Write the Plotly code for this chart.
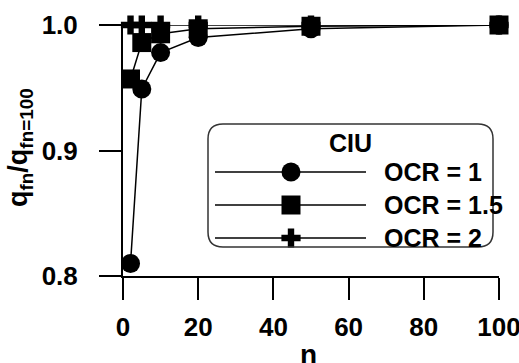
import plotly.graph_objects as go

# ---- data ----
n_values = [2, 5, 10, 20, 50, 100]
ocr1 = [0.810, 0.949, 0.978, 0.990, 0.997, 1.000]
ocr15 = [0.957, 0.986, 0.993, 0.997, 0.999, 1.000]
ocr2 = [1.000, 1.000, 1.000, 1.000, 1.000, 1.000]
series_names = ["OCR = 1", "OCR = 1.5", "OCR = 2"]
series_symbols = ["circle", "square", "cross"]
series_sizes = [19, 19, 16]
legend_title = "CIU"
x_ticks = [0, 20, 40, 60, 80, 100]
y_ticks = [0.8, 0.9, 1.0]
y_tick_labels = ["0.8", "0.9", "1.0"]

FONT = "Liberation Sans Narrow, Liberation Sans, Arial, sans-serif"
FONT_REG = "Liberation Sans, Arial, sans-serif"

W, H = 519, 363
L, R, T, B = 123, 20, 25, 87
PW, PH = W - L - R, H - T - B

def px(x):
    return (x - L) / PW

def py(y):
    return (H - B - y) / PH

fig = go.Figure()
for vals, name, sym, sz in zip([ocr1, ocr15, ocr2], series_names, series_symbols, series_sizes):
    fig.add_trace(go.Scatter(
        x=n_values, y=vals, mode="lines+markers", name=name,
        line=dict(color="black", width=1.5),
        marker=dict(symbol=sym, size=sz, color="black", line=dict(width=0)),
        cliponaxis=False, showlegend=False,
    ))

# ---- custom legend ----
bx0, bx1, by0, by1 = 208, 493, 124, 247
r = 15
rx, ry = r / PW, r / PH
X0, X1, Y0, Y1 = px(bx0), px(bx1), py(by1), py(by0)
path = (f"M {X0+rx},{Y0} L {X1-rx},{Y0} Q {X1},{Y0} {X1},{Y0+ry} "
        f"L {X1},{Y1-ry} Q {X1},{Y1} {X1-rx},{Y1} L {X0+rx},{Y1} "
        f"Q {X0},{Y1} {X0},{Y1-ry} L {X0},{Y0+ry} Q {X0},{Y0} {X0+rx},{Y0} Z")
fig.add_shape(type="path", path=path, xref="paper", yref="paper",
              line=dict(color="#333333", width=1.5), fillcolor="rgba(0,0,0,0)")

row_y = [172, 205, 238]
for yy, name, sym, sz in zip(row_y, series_names, series_symbols, series_sizes):
    fig.add_shape(type="line", xref="paper", yref="paper",
                  x0=px(215), x1=px(366), y0=py(yy), y1=py(yy),
                  line=dict(color="black", width=1.5))
    fig.add_trace(go.Scatter(
        x=[px(291)], y=[py(yy)], mode="markers", xaxis="x2", yaxis="y2",
        marker=dict(symbol=sym, size=sz, color="black", line=dict(width=0)),
        cliponaxis=False, showlegend=False, hoverinfo="skip",
    ))
    fig.add_annotation(x=px(382), y=py(yy), xref="paper", yref="paper",
                       text=f"<b>{name}</b>", showarrow=False, xanchor="left",
                       yanchor="middle", font=dict(family=FONT, size=25, color="black"))

fig.add_annotation(x=px(350), y=py(143), xref="paper", yref="paper",
                   text=f"<b>{legend_title}</b>", showarrow=False,
                   xanchor="center", yanchor="middle",
                   font=dict(family=FONT, size=25, color="black"))

# axis titles
fig.add_annotation(x=px(308), y=py(354), xref="paper", yref="paper",
                   text="<b>n</b>", showarrow=False, xanchor="center", yanchor="middle",
                   font=dict(family=FONT_REG, size=28, color="black"))
fig.add_annotation(x=px(20), y=py(148), xref="paper", yref="paper",
                   text="<b>q<sub>fn</sub>/q<sub>fn=100</sub></b>", showarrow=False,
                   textangle=-90, xanchor="center", yanchor="middle",
                   font=dict(family=FONT_REG, size=27, color="black"))

fig.update_layout(
    width=W, height=H, margin=dict(l=L, r=R, t=T, b=B, autoexpand=False),
    plot_bgcolor="white", paper_bgcolor="white", showlegend=False,
    xaxis=dict(range=[0, 100], tickvals=x_ticks, ticks="outside", ticklen=22,
               tickwidth=2, tickcolor="black", showline=True, linewidth=2,
               linecolor="black", showgrid=False, zeroline=False, automargin=False,
               ticklabelstandoff=5, ticklabeloverflow="allow",
               tickfont=dict(family=FONT, size=26, color="black", weight="bold")),
    yaxis=dict(range=[0.8, 1.0], tickvals=y_ticks, ticktext=y_tick_labels,
               ticks="outside", ticklen=22, tickwidth=2, tickcolor="black",
               showline=True, linewidth=2, linecolor="black", showgrid=False,
               zeroline=False, automargin=False, ticklabelstandoff=16,
               ticklabeloverflow="allow",
               tickfont=dict(family=FONT, size=26, color="black", weight="bold")),
    xaxis2=dict(range=[0, 1], overlaying="x", visible=False),
    yaxis2=dict(range=[0, 1], overlaying="y", visible=False),
)

fig.write_html("out.html")
